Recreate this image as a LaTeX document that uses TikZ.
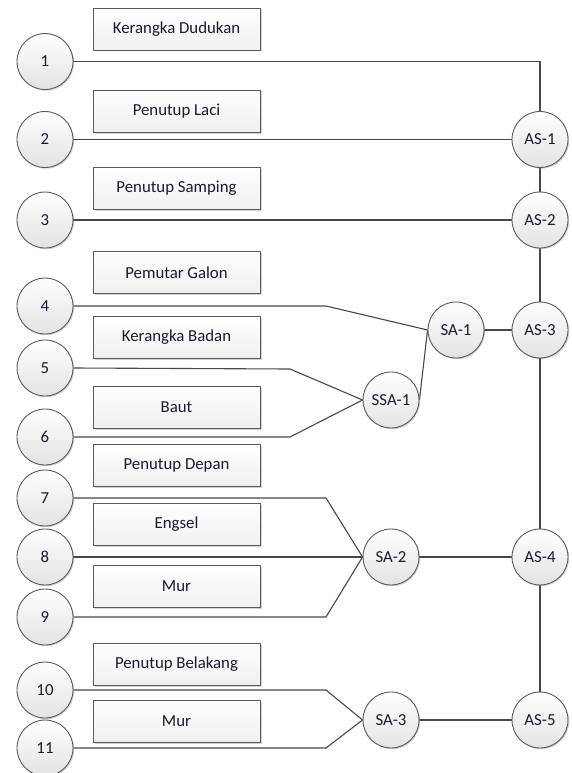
\documentclass[tikz,border=0pt]{standalone}
\usepackage{fontspec}
\setmainfont{Carlito}
\usetikzlibrary{shadows,backgrounds}
\definecolor{linec}{HTML}{484848}
\definecolor{edgec}{HTML}{5A5A5A}
\definecolor{txtc}{HTML}{1A1A30}
\begin{document}
\begin{tikzpicture}[x=1pt,y=-1pt,
  every node/.style={font=\fontsize{16.8}{20}\selectfont, text=txtc},
  partc/.style={circle, draw=edgec, line width=0.9pt, minimum size=56pt, inner sep=0pt,
    top color=white, bottom color=gray!22,
    drop shadow={opacity=0.35, shadow xshift=1.2pt, shadow yshift=-1.2pt}},
  namebox/.style={rectangle, draw=edgec, line width=0.9pt, minimum width=167pt, minimum height=42pt, inner sep=0pt,
    top color=white, bottom color=gray!12,
    drop shadow={opacity=0.35, shadow xshift=1.5pt, shadow yshift=-1.5pt}},
  conn/.style={draw=linec, line width=1.1pt}]
\useasboundingbox (0,0) rectangle (571,773);
% name boxes
\node[namebox] (b1) at (176.5,29) {Kerangka Dudukan};
\node[namebox] (b2) at (176.5,111) {Penutup Laci};
\node[namebox] (b3) at (176.5,188) {Penutup Samping};
\node[namebox] (b4) at (176.5,272.5) {Pemutar Galon};
\node[namebox] (b5) at (176.5,337.5) {Kerangka Badan};
\node[namebox] (b6) at (176.5,407.5) {Baut};
\node[namebox] (b7) at (176.5,465.5) {Penutup Depan};
\node[namebox] (b8) at (176.5,524.5) {Engsel};
\node[namebox] (b9) at (176.5,586.5) {Mur};
\node[namebox] (b10) at (176.5,664.5) {Penutup Belakang};
\node[namebox] (b11) at (176.5,721) {Mur};
% part circles
\node[partc] (c1) at (45,61.5) {1};
\node[partc] (c2) at (45,139.5) {2};
\node[partc] (c3) at (45,220) {3};
\node[partc] (c4) at (45,306) {4};
\node[partc] (c5) at (45,368) {5};
\node[partc] (c6) at (45,437) {6};
\node[partc] (c7) at (45,498) {7};
\node[partc] (c8) at (45,557) {8};
\node[partc] (c9) at (45,617) {9};
\node[partc] (c10) at (45,690) {10};
\node[partc] (c11) at (45,748) {11};
% assembly circles
\node[partc] (as1) at (540,139.5) {AS-1};
\node[partc] (as2) at (540,220) {AS-2};
\node[partc] (as3) at (540,330) {AS-3};
\node[partc] (as4) at (540,557) {AS-4};
\node[partc] (as5) at (540,720) {AS-5};
\node[partc] (sa1) at (456,330) {SA-1};
\node[partc] (ssa1) at (391,400) {SSA-1};
\node[partc] (sa2) at (391,557) {SA-2};
\node[partc] (sa3) at (391,720) {SA-3};
% bend points
\coordinate (k4) at (326,306);
\coordinate (k5) at (290,369);
\coordinate (k6) at (290,437);
\coordinate (k7) at (326,498);
\coordinate (k9) at (326,617);
\coordinate (k10) at (326,690);
\coordinate (k11) at (326,748);
\begin{scope}[on background layer]
\draw[conn] (c1.east) -| (as1.north);
\draw[conn] (c2.east) -- (as1.west);
\draw[conn] (c3.east) -- (as2.west);
\draw[conn] (c4.east) -- (k4) -- (sa1.west);
\draw[conn] (c5.east) -- (k5) -- (ssa1.west);
\draw[conn] (c6.east) -- (k6) -- (ssa1.west);
\draw[conn] (ssa1.east) -- (sa1.west);
\draw[conn] (sa1.east) -- (as3.west);
\draw[conn] (c7.east) -- (k7) -- (sa2.west);
\draw[conn] (c8.east) -- (sa2.west);
\draw[conn] (c9.east) -- (k9) -- (sa2.west);
\draw[conn] (c10.east) -- (k10) -- (sa3.west);
\draw[conn] (c11.east) -- (k11) -- (sa3.west);
\draw[conn] (sa2.east) -- (as4.west);
\draw[conn] (sa3.east) -- (as5.west);
\draw[conn] (as1.south) -- (as2.north);
\draw[conn] (as2.south) -- (as3.north);
\draw[conn] (as3.south) -- (as4.north);
\draw[conn] (as4.south) -- (as5.north);
\end{scope}
\end{tikzpicture}
\end{document}
